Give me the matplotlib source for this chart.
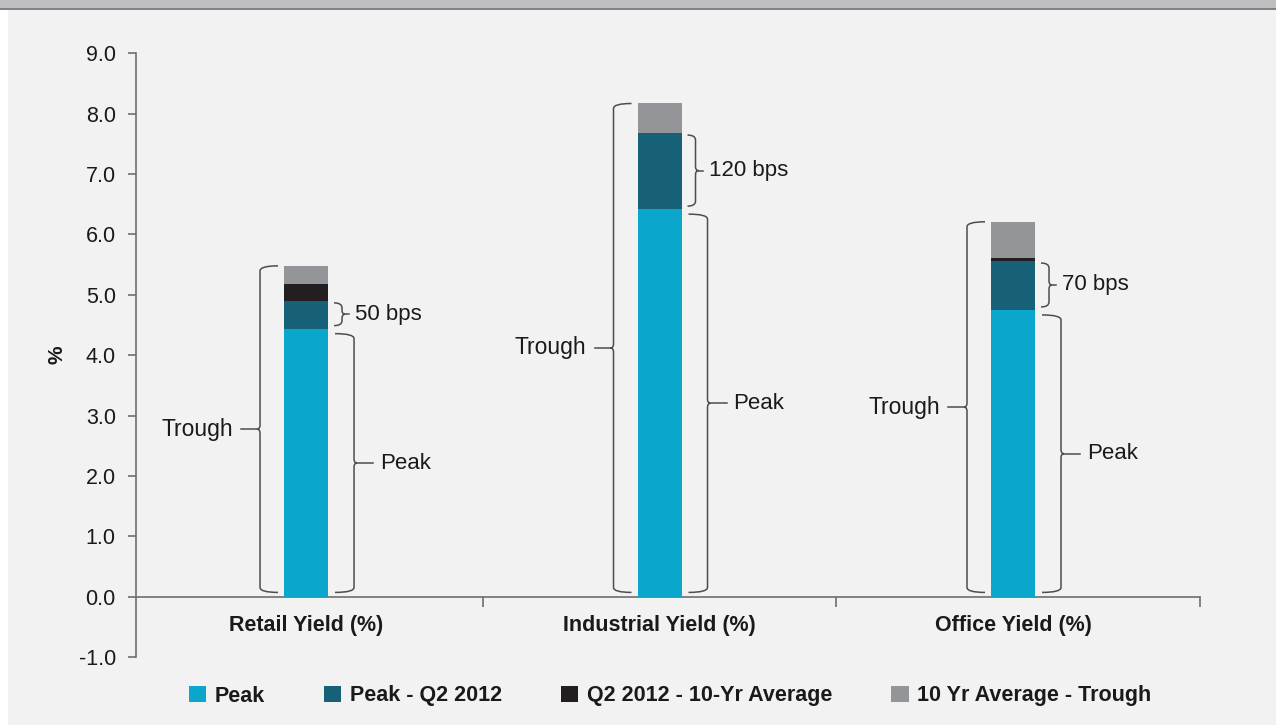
import matplotlib
matplotlib.use('Agg')
import matplotlib.pyplot as plt
import numpy as np
from matplotlib.path import Path
from matplotlib.patches import PathPatch, Patch, Rectangle
from matplotlib.lines import Line2D

# values (%)
categories = ['Retail Yield (%)', 'Industrial Yield (%)', 'Office Yield (%)']
peak = [4.44, 6.42, 4.75]
peak_to_q2 = [0.46, 1.26, 0.81]
q2_to_avg = [0.28, 0.0, 0.05]
avg_to_trough = [0.30, 0.49, 0.60]
bps_labels = ['50 bps', '120 bps', '70 bps']
series_names = ['Peak', 'Peak - Q2 2012', 'Q2 2012 - 10-Yr Average', '10 Yr Average - Trough']
colors = ['#0aa6cb', '#176178', '#231f20', '#939598']

BG = '#f1f2f1'
INK = '#1a1a1a'
LINE = '#6d6e71'
BOLD = ['Liberation Sans', 'DejaVu Sans']
REG = ['Liberation Sans', 'DejaVu Sans']

W, H = 1276, 725
fig = plt.figure(figsize=(W / 100, H / 100), dpi=100, facecolor='white')
fig.patches.append(Rectangle((8 / W, 0), 1 - 8 / W, (H - 10) / H, transform=fig.transFigure,
                             facecolor=BG, edgecolor='none', zorder=-3))
fig.patches.append(Rectangle((0, (H - 8) / H), 1, 8 / H, transform=fig.transFigure,
                             facecolor='#bcbec0', edgecolor='none', zorder=-2))
fig.patches.append(Rectangle((0, (H - 10) / H), 1, 2 / H, transform=fig.transFigure,
                             facecolor='#808285', edgecolor='none', zorder=-2))

ax_l, ax_r, y_lo, y_hi = 136, 1200, 657, 53.4
ax = fig.add_axes([ax_l / W, (H - y_lo) / H, (ax_r - ax_l) / W, (y_lo - y_hi) / H])
ax.set_facecolor('none')

x = np.arange(len(categories))
xlim = (-0.481, 2.529)
ax.set_xlim(*xlim)
ax.set_ylim(-1, 9)
sx = (xlim[1] - xlim[0]) / (ax_r - ax_l)   # data units per pixel
sy = 10 / (y_lo - y_hi)
bar_w = 44 * sx

segments = [peak, peak_to_q2, q2_to_avg, avg_to_trough]
bottom = np.zeros(len(x))
for vals, col in zip(segments, colors):
    ax.bar(x, vals, bottom=bottom, width=bar_w, color=col, linewidth=0, zorder=3)
    bottom = bottom + np.array(vals)
totals = bottom


def brace(xv, y0, y1, side, hook, tail, label, gap, fs):
    # curly brace with vertical stroke at xv, hooks pointing back toward the bar
    h = hook * sx
    r = 5 * sy
    c = 4 * sy
    nub = 3 * sx
    ym = (y0 + y1) / 2
    verts = [(xv - side * h, y1), (xv, y1), (xv, y1 - r),
             (xv, ym + c), (xv, ym), (xv + side * nub, ym),
             (xv, ym), (xv, ym - c),
             (xv, y0 + r), (xv, y0), (xv - side * h, y0)]
    codes = [Path.MOVETO, Path.CURVE3, Path.CURVE3,
             Path.LINETO, Path.CURVE3, Path.CURVE3,
             Path.CURVE3, Path.CURVE3,
             Path.LINETO, Path.CURVE3, Path.CURVE3]
    ax.add_patch(PathPatch(Path(verts, codes), facecolor='none', edgecolor='#4d4d4f',
                           linewidth=1.1, zorder=4))
    xt = xv + side * tail * sx
    ax.add_line(Line2D([xv + side * nub, xt], [ym, ym], color='#4d4d4f', linewidth=1.1, zorder=4))
    ax.text(xt + side * gap * sx, ym, label, ha='left' if side > 0 else 'right', va='center',
            fontsize=fs, color=INK, family=REG)


for i in range(len(x)):
    half = 22 * sx
    # Trough brace on the left, whole bar
    brace(x[i] - half - 24 * sx, 0.07, totals[i], -1, 18, 19, 'Trough', 8, 16.5)
    # Peak brace on the right
    brace(x[i] + half + 26 * sx, 0.07, peak[i] - 5 * sy, 1, 19, 19, 'Peak', 7, 16)
    # bps brace for the peak - Q2 2012 move
    brace(x[i] + half + 14 * sx, peak[i] + 3 * sy, peak[i] + peak_to_q2[i] - 2 * sy, 1,
          8, 7, bps_labels[i], 6, 16)

# axes styling
for s in ['top', 'right']:
    ax.spines[s].set_visible(False)
ax.spines['bottom'].set_position(('data', 0))
for s in ['left', 'bottom']:
    ax.spines[s].set_color(LINE)
    ax.spines[s].set_linewidth(1.2)

yt = np.arange(-1, 10)
ax.set_yticks(yt)
ax.set_yticklabels([f'{v:.1f}' for v in yt], family=REG, fontsize=15.5, color=INK)
ax.tick_params(axis='y', direction='out', length=6, width=1.2, color=LINE, pad=8.5)
ax.set_xticks([0.5, 1.5, xlim[1]])
ax.set_xticklabels([])
ax.tick_params(axis='x', direction='out', length=7, width=1.2, color=LINE)

for i, name in enumerate(categories):
    ax.text(x[i], -0.47, name, ha='center', va='center', fontsize=15.5, fontweight='bold',
            color=INK, family=BOLD)

fig.text(57 / W, 1 - 355 / H, '%', rotation=90, ha='center', va='center', fontsize=15,
         fontweight='bold', color=INK, family=REG)

handles = [Patch(facecolor=c, edgecolor='none') for c in colors]
leg = fig.legend(handles, series_names, loc='center left', bbox_to_anchor=(180 / W, 1 - 696 / H),
                 ncol=4, frameon=False, handlelength=0.8, handleheight=0.8, handletextpad=0.4,
                 columnspacing=2.75, borderaxespad=0, prop={'family': BOLD, 'weight': 'bold', 'size': 15.5})
for t in leg.get_texts():
    t.set_color(INK)

fig.savefig('out.png', dpi=100, facecolor=fig.get_facecolor())
